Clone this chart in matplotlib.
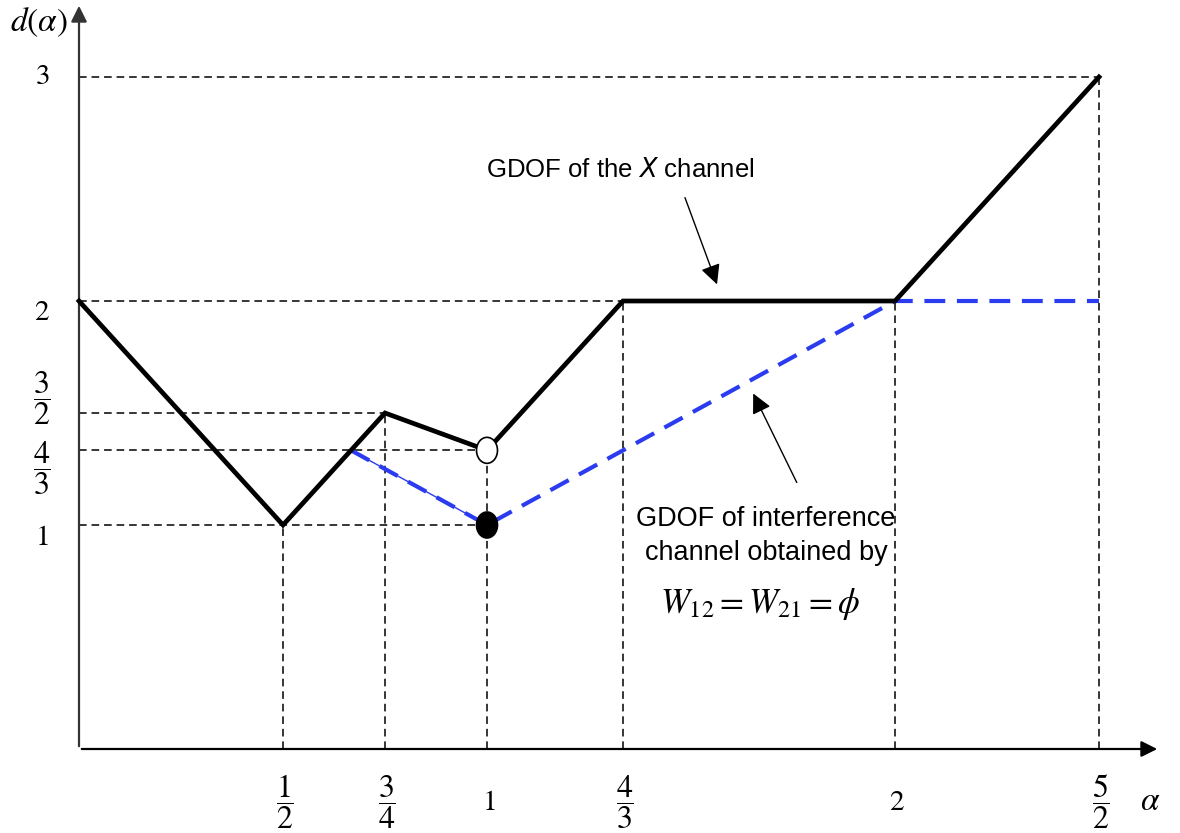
import matplotlib.pyplot as plt
from matplotlib.patches import Ellipse

plt.rcParams['mathtext.fontset'] = 'stix'
plt.rcParams['font.family'] = ['Liberation Sans', 'DejaVu Sans']

# GDOF of the X channel (piecewise linear)
x_alpha = [0, 1/2, 3/4, 1, 4/3, 2, 5/2]
x_d = [2, 1, 3/2, 4/3, 2, 2, 3]

# GDOF of interference channel with W12 = W21 = phi
ic_alpha = [2/3, 1, 2, 5/2]
ic_d = [4/3, 1, 2, 2]

# guide lines: (level, alpha where horizontal guide ends)
h_levels = [3, 2, 3/2, 4/3, 1]
h_ends = [5/2, 4/3, 3/4, 1, 1]
# vertical guides: (alpha, top level)
v_alphas = [1/2, 3/4, 1, 4/3, 2, 5/2]
v_tops = [1, 3/2, 4/3, 2, 2, 3]

xtick_labels = [r'$\dfrac{1}{2}$', r'$\dfrac{3}{4}$', r'$1$', r'$\dfrac{4}{3}$', r'$2$', r'$\dfrac{5}{2}$']
ytick_labels = [r'$3$', r'$2$', r'$\dfrac{3}{2}$', r'$\dfrac{4}{3}$', r'$1$']


def label_size(lab):
    # fractions render smaller in mathtext, bump them up
    return 23 if 'frac' in lab else 21


fig = plt.figure(figsize=(11.8, 8.33), dpi=100)
ax = fig.add_axes([0, 0, 1, 1])
ax.set_xlim(-79 / 408, (1180 - 79) / 408)
ax.set_ylim((749 - 833) / 224, 749 / 224)
ax.axis('off')

dash = dict(color='black', lw=1.1, dashes=(5, 3.2), zorder=1)
for lv, e in zip(h_levels, h_ends):
    ax.plot([0, e], [lv, lv], **dash)
for a, t in zip(v_alphas, v_tops):
    ax.plot([a, a], [0, t], **dash)

# axes with arrows
ax.annotate('', xy=(1160 / 408 - 79 / 408, 0), xytext=(0, 0),
            arrowprops=dict(arrowstyle='-|>', color='black', lw=1.6, mutation_scale=24))
ax.annotate('', xy=(0, (749 - 3) / 224), xytext=(0, 0),
            arrowprops=dict(arrowstyle='-|>', color='#333333', lw=1.6, mutation_scale=24))

blue = '#2b3cf0'
ax.plot(ic_alpha[:2], ic_d[:2], color=blue, lw=1.0, zorder=2)
ax.plot(ic_alpha, ic_d, color=blue, lw=3.0, dashes=(5, 2.8), zorder=2)

ax.plot(x_alpha, x_d, color='black', lw=3.4, zorder=3, solid_joinstyle='miter')

ax.add_patch(Ellipse((1, 4/3), 21 / 408, 26 / 224, facecolor='white', edgecolor='black', lw=1.2, zorder=4))
ax.add_patch(Ellipse((1, 1), 21 / 408, 26 / 224, facecolor='black', edgecolor='black', lw=1.2, zorder=4))

# tick labels (offsets in pixels converted to data units)
for a, lab in zip(v_alphas, xtick_labels):
    ax.text(a + 2 / 408, -53 / 224, lab, fontsize=label_size(lab), ha='center', va='center')
y_lab_off = [1, -11, 15, -18, -12]
for lv, lab, off in zip(h_levels, ytick_labels, y_lab_off):
    ax.text(-37 / 408, lv + off / 224, lab, fontsize=label_size(lab), ha='center', va='center')

ax.text((1150 - 79) / 408, -52 / 224, r'$\alpha$', fontsize=24, ha='center', va='center')
ax.text(-40 / 408, (749 - 22) / 224, r'$d(\alpha)$', fontsize=24, ha='center', va='center')

# annotations
ax.text((620 - 79) / 408, (749 - 170) / 224, 'GDOF of the $\\mathit{X}$ channel', fontsize=18.5,
        ha='center', va='center', math_fontfamily='dejavusans')
ax.annotate('', xy=((718 - 79) / 408, (749 - 287) / 224), xytext=((684 - 79) / 408, (749 - 195) / 224),
            arrowprops=dict(arrowstyle='-|>', color='black', lw=1.0, mutation_scale=30))
ax.annotate('', xy=((752 - 79) / 408, (749 - 391) / 224), xytext=((798 - 79) / 408, (749 - 485) / 224),
            arrowprops=dict(arrowstyle='-|>', color='black', lw=1.0, mutation_scale=30))
ax.text((766 - 79) / 408, (749 - 536) / 224, 'GDOF of interference\nchannel obtained by', fontsize=19.5,
        ha='center', va='center', linespacing=1.45)
ax.text((760 - 79) / 408, (749 - 604) / 224, r'$W_{12}=W_{21}=\phi$', fontsize=25,
        ha='center', va='center')

fig.savefig('out.png', dpi=100)
plt.close(fig)
